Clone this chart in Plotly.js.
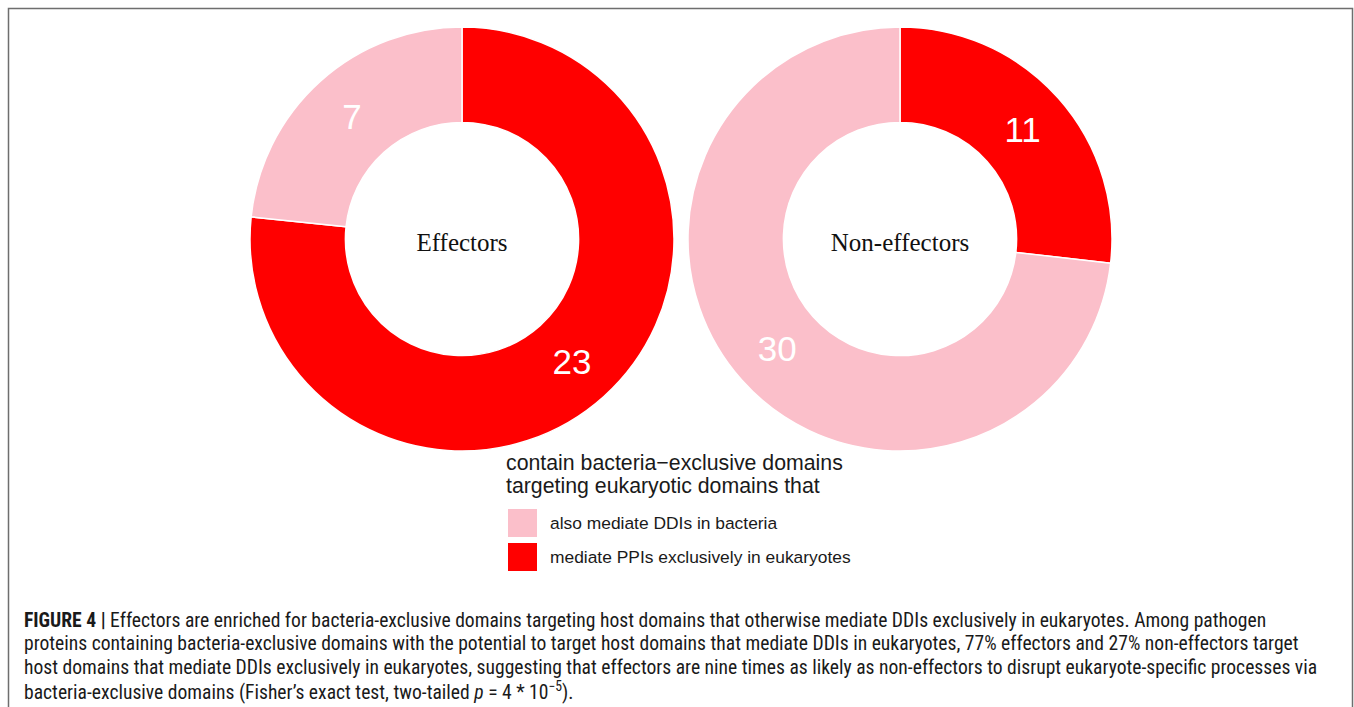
<!DOCTYPE html>
<html>
<head>
<meta charset="utf-8">
<script src="https://cdn.plot.ly/plotly-3.0.1.min.js"></script>
<style>
  html, body { margin: 0; padding: 0; background: #ffffff; }
  #chart { width: 1354px; height: 707px; }
</style>
</head>
<body>
<div id="chart"></div>
<script>
// ---- data ----
const groups = ['Effectors', 'Non-effectors'];
const categories = ['also mediate DDIs in bacteria', 'mediate PPIs exclusively in eukaryotes'];
const effectorsCounts = [7, 23];      // [also mediate DDIs in bacteria, mediate PPIs exclusively]
const nonEffectorsCounts = [30, 11];
const categoryColors = ['#FBBFCA', '#FF0000'];
const legendTitleLines = ['contain bacteria\u2212exclusive domains', 'targeting eukaryotic domains that'];
const captionLines = [
  '<b>FIGURE 4 |</b> Effectors are enriched for bacteria-exclusive domains targeting host domains that otherwise mediate DDIs exclusively in eukaryotes. Among pathogen',
  'proteins containing bacteria-exclusive domains with the potential to target host domains that mediate DDIs in eukaryotes, 77% effectors and 27% non-effectors target',
  'host domains that mediate DDIs exclusively in eukaryotes, suggesting that effectors are nine times as likely as non-effectors to disrupt eukaryote-specific processes via',
  'bacteria-exclusive domains (Fisher\u2019s exact test, two-tailed <i>p</i> = 4 * 10<sup>\u22125</sup>).'
];

// ---- layout helpers (pixel -> paper) ----
const W = 1354, H = 707;
const px = x => x / W;
const py = y => 1 - y / H;

// slice order: red (exclusive) first, clockwise from 12 o'clock
const order = [1, 0];
function makePie(counts, name, cx, cy, r) {
  return {
    type: 'pie',
    name: name,
    labels: order.map(i => categories[i]),
    values: order.map(i => counts[i]),
    marker: { colors: order.map(i => categoryColors[i]), line: { color: '#ffffff', width: 1.5 } },
    sort: false,
    direction: 'clockwise',
    rotation: 0,
    hole: 0.55,
    textinfo: 'value',
    textposition: 'inside',
    insidetextorientation: 'horizontal',
    textfont: { family: 'Liberation Sans, Arial, sans-serif', size: 35, color: '#ffffff' },
    title: { text: name, position: 'middle center', font: { family: 'Liberation Serif, Times New Roman, serif', size: 25, color: '#111111' } },
    domain: { x: [px(cx - r), px(cx + r)], y: [py(cy + r), py(cy - r)] },
    showlegend: false,
    hoverinfo: 'label+value'
  };
}

const traces = [
  makePie(effectorsCounts, groups[0], 462, 239, 212),
  makePie(nonEffectorsCounts, groups[1], 900, 239, 212)
];

const shapes = [
  { type: 'rect', xref: 'paper', yref: 'paper', x0: px(8.5), x1: px(1352.5), y0: -0.05, y1: py(8.5),
    line: { color: '#6e6e6e', width: 1.5 }, fillcolor: 'rgba(0,0,0,0)' }
];
const annotations = [];

// legend title
legendTitleLines.forEach((t, i) => {
  annotations.push({ xref: 'paper', yref: 'paper', x: px(504), y: py(463 + 23 * i), xanchor: 'left', yanchor: 'middle',
    text: t, showarrow: false, font: { family: 'Liberation Sans, Arial, sans-serif', size: 21.3, color: '#1a1a1a' } });
});
// legend items
categories.forEach((c, i) => {
  const top = 509 + 34 * i;
  shapes.push({ type: 'rect', xref: 'paper', yref: 'paper', x0: px(508), x1: px(537), y0: py(top + 28), y1: py(top),
    line: { width: 0 }, fillcolor: categoryColors[i] });
  annotations.push({ xref: 'paper', yref: 'paper', x: px(548), y: py(top + 14), xanchor: 'left', yanchor: 'middle',
    text: c, showarrow: false, font: { family: 'Liberation Sans, Arial, sans-serif', size: 17.4, color: '#1a1a1a' } });
});
// caption, one annotation per line
captionLines.forEach((t, i) => {
  annotations.push({ xref: 'paper', yref: 'paper', x: px(22), y: py(620 + 23.5 * i), xanchor: 'left', yanchor: 'middle', align: 'left',
    text: t, showarrow: false,
    font: { family: 'Roboto Condensed, Liberation Sans Narrow, Liberation Sans, Arial, sans-serif', size: 19.6, color: '#1a1a1a' } });
});

const layout = {
  width: W, height: H,
  margin: { l: 0, r: 0, t: 0, b: 0 },
  paper_bgcolor: '#ffffff',
  plot_bgcolor: '#ffffff',
  showlegend: false,
  shapes: shapes,
  annotations: annotations
};

Plotly.newPlot('chart', traces, layout, { displayModeBar: false, staticPlot: true });
</script>
</body>
</html>
